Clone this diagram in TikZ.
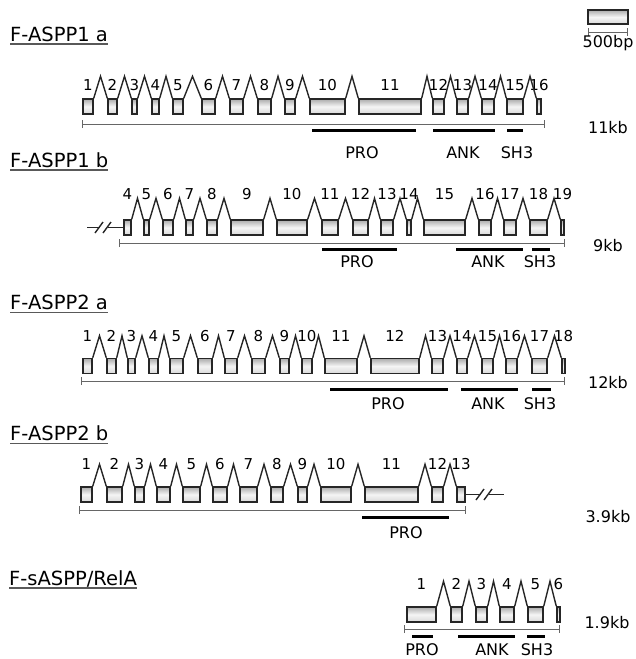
\documentclass[tikz,border=0pt]{standalone}
\usepackage{fontspec}
\setmainfont{DejaVu Sans}
\usetikzlibrary{calc, positioning, arrows.meta}

\begin{document}
\begin{tikzpicture}[x=1pt, y=-1pt]
\tikzstyle{exon} = [rectangle, draw=black!85, line width=1.4pt, top color=gray!65, bottom color=gray!30, middle color=gray!8, inner sep=0pt, minimum height=15pt]
\tikzstyle{exnum} = [inner sep=0pt, font=\fontsize{15}{15}\selectfont]
\tikzstyle{intron} = [draw=black!85, line width=1.4pt]
\tikzstyle{kbline} = [draw=black!60, line width=0.8pt, {Bar[width=8pt]}-{Bar[width=8pt]}]
\tikzstyle{dombar} = [draw=black, line width=3pt]
\tikzstyle{domlabel} = [inner sep=0pt, font=\fontsize{16}{16}\selectfont]
\tikzstyle{kblabel} = [inner sep=0pt, font=\fontsize{16}{16}\selectfont]
\tikzstyle{genename} = [inner sep=0pt, anchor=base west, font=\fontsize{19.5}{19.5}\selectfont]
\tikzstyle{uline} = [draw=black!65, line width=1.8pt]
\tikzstyle{gap} = [draw=white, line width=3pt]

\useasboundingbox (0,0) rectangle (635,659);

% scale bar
\node[exon, minimum width=40pt, minimum height=14pt] (bar) at (608,17) {};
\coordinate (bars) at (588,32);
\coordinate (bart) at (628,32);
\draw[kbline] (bars) -- (bart);
\node[kblabel] (barlab) at (608,43) {500bp};

% F-ASPP1 a
\node[genename] (a1name) at (10,41) {F-ASPP1 a};
\draw[uline] ($(a1name.base west)+(0,3)$) -- ($(a1name.base east)+(0,3)$);
\foreach \n/\a/\b in {1/83/93, 2/108/117, 3/132/137, 4/152/159, 5/173/183, 6/202/215, 7/230/243, 8/258/271, 9/285/295, 10/310/345, 11/359/421, 12/433/444, 13/457/468, 14/482/494, 15/507/523, 16/537/541} {
  \node[exon, minimum width={(\b-\a)*1pt}] (a1e\n) at ({(\a+\b)/2},106.5) {};
  \node[exnum] (a1n\n) at ({(\a+\b)/2},85) {\n};
}
\foreach \i [count=\j from 2] in {1,...,15}
  \draw[intron] (a1e\i.north east) -- ($(a1e\i.north east)!.5!(a1e\j.north west)+(0,-22)$) -- (a1e\j.north west);
\coordinate (a1s) at (82,124);
\coordinate (a1t) at (545,124);
\draw[kbline] (a1s) -- (a1t);
\foreach \p/\q/\lx/\t in {312/416/362/PRO, 433/495/463/ANK, 507/523/517/SH3} {
  \draw[dombar] (\p,130) -- (\q,130);
  \node[domlabel] at (\lx,153) {\t};
}
\node[kblabel] (a1kb) at (608,128) {11kb};

% F-ASPP1 b
\node[genename] (b1name) at (10,167) {F-ASPP1 b};
\draw[uline] ($(b1name.base west)+(0,3)$) -- ($(b1name.base east)+(0,3)$);
\foreach \n/\a/\b in {4/124/131, 5/144/149, 6/163/173, 7/186/193, 8/207/217, 9/231/263, 10/277/307, 11/322/338, 12/353/368, 13/381/393, 14/407/411, 15/424/465, 16/479/491, 17/504/516, 18/530/547, 19/561/564} {
  \node[exon, minimum width={(\b-\a)*1pt}] (b1e\n) at ({(\a+\b)/2},227.5) {};
  \node[exnum] (b1n\n) at ({(\a+\b)/2},194) {\n};
}
\foreach \i [count=\j from 5] in {4,...,18}
  \draw[intron] (b1e\i.north east) -- ($(b1e\i.north east)!.5!(b1e\j.north west)+(0,-21)$) -- (b1e\j.north west);
\coordinate (b1brk) at (87,227.5);
\draw[intron] (b1brk) -- (b1e4.west);
\draw[gap] (100,227.5) -- (108,227.5);
\draw[intron] (95,233) -- (103,222);
\draw[intron] (103,233) -- (111,222);
\coordinate (b1s) at (119,243);
\coordinate (b1t) at (565,243);
\draw[kbline] (b1s) -- (b1t);
\foreach \p/\q/\lx/\t in {322/397/357/PRO, 456/523/488/ANK, 532/550/540/SH3} {
  \draw[dombar] (\p,249) -- (\q,249);
  \node[domlabel] at (\lx,262) {\t};
}
\node[kblabel] (b1kb) at (608,246) {9kb};

% F-ASPP2 a
\node[genename] (a2name) at (10,309.5) {F-ASPP2 a};
\draw[uline] ($(a2name.base west)+(0,3)$) -- ($(a2name.base east)+(0,3)$);
\foreach \n/\a/\b in {1/83/92, 2/107/116, 3/128/135, 4/149/158, 5/170/183, 6/198/212, 7/225/237, 8/252/265, 9/280/289, 10/302/312, 11/325/357, 12/371/419, 13/432/443, 14/457/467, 15/482/493, 16/506/517, 17/532/547, 18/562/565} {
  \node[exon, minimum width={(\b-\a)*1pt}] (a2e\n) at ({(\a+\b)/2},366) {};
  \node[exnum] (a2n\n) at ({(\a+\b)/2},336) {\n};
}
\foreach \i [count=\j from 2] in {1,...,17}
  \draw[intron] (a2e\i.north east) -- ($(a2e\i.north east)!.5!(a2e\j.north west)+(0,-22)$) -- (a2e\j.north west);
\coordinate (a2s) at (81,381);
\coordinate (a2t) at (565,381);
\draw[kbline] (a2s) -- (a2t);
\foreach \p/\q/\lx/\t in {330/448/388/PRO, 461/518/488/ANK, 532/551/540/SH3} {
  \draw[dombar] (\p,389) -- (\q,389);
  \node[domlabel] at (\lx,404) {\t};
}
\node[kblabel] (a2kb) at (608,383) {12kb};

% F-ASPP2 b
\node[genename] (b2name) at (10,440.5) {F-ASPP2 b};
\draw[uline] ($(b2name.base west)+(0,3)$) -- ($(b2name.base east)+(0,3)$);
\foreach \n/\a/\b in {1/81/92, 2/107/122, 3/135/144, 4/157/170, 5/183/200, 6/213/227, 7/240/257, 8/271/283, 9/298/307, 10/321/351, 11/365/418, 12/432/443, 13/457/465} {
  \node[exon, minimum width={(\b-\a)*1pt}] (b2e\n) at ({(\a+\b)/2},494.5) {};
  \node[exnum] (b2n\n) at ({(\a+\b)/2},464) {\n};
}
\foreach \i [count=\j from 2] in {1,...,12}
  \draw[intron] (b2e\i.north east) -- ($(b2e\i.north east)!.5!(b2e\j.north west)+(0,-22)$) -- (b2e\j.north west);
\coordinate (b2brk) at (504,494.5);
\draw[intron] (b2e13.east) -- (b2brk);
\draw[gap] (481,494.5) -- (489,494.5);
\draw[intron] (476,500) -- (484,489);
\draw[intron] (484,500) -- (492,489);
\coordinate (b2s) at (79,510);
\coordinate (b2t) at (466,510);
\draw[kbline] (b2s) -- (b2t);
\draw[dombar] (362,517) -- (449,517);
\node[domlabel] (b2pro) at (406,533) {PRO};
\node[kblabel] (b2kb) at (608,517) {3.9kb};

% F-sASPP/RelA
\node[genename] (sname) at (9,585) {F-sASPP/RelA};
\draw[uline] ($(sname.base west)+(0,3)$) -- ($(sname.base east)+(0,3)$);
\foreach \n/\a/\b in {1/407/436, 2/451/462, 3/476/487, 4/500/514, 5/528/543, 6/557/560} {
  \node[exon, minimum width={(\b-\a)*1pt}] (se\n) at ({(\a+\b)/2},614.5) {};
  \node[exnum] (sn\n) at ({(\a+\b)/2},584) {\n};
}
\foreach \i [count=\j from 2] in {1,...,5}
  \draw[intron] (se\i.north east) -- ($(se\i.north east)!.5!(se\j.north west)+(0,-25)$) -- (se\j.north west);
\coordinate (ss) at (404,629);
\coordinate (st) at (560,629);
\draw[kbline] (ss) -- (st);
\foreach \p/\q/\lx/\t in {412/433/422/PRO, 458/515/492/ANK, 527/545/537/SH3} {
  \draw[dombar] (\p,636) -- (\q,636);
  \node[domlabel] at (\lx,650) {\t};
}
\node[kblabel] (skb) at (607,623) {1.9kb};
\end{tikzpicture}
\end{document}
